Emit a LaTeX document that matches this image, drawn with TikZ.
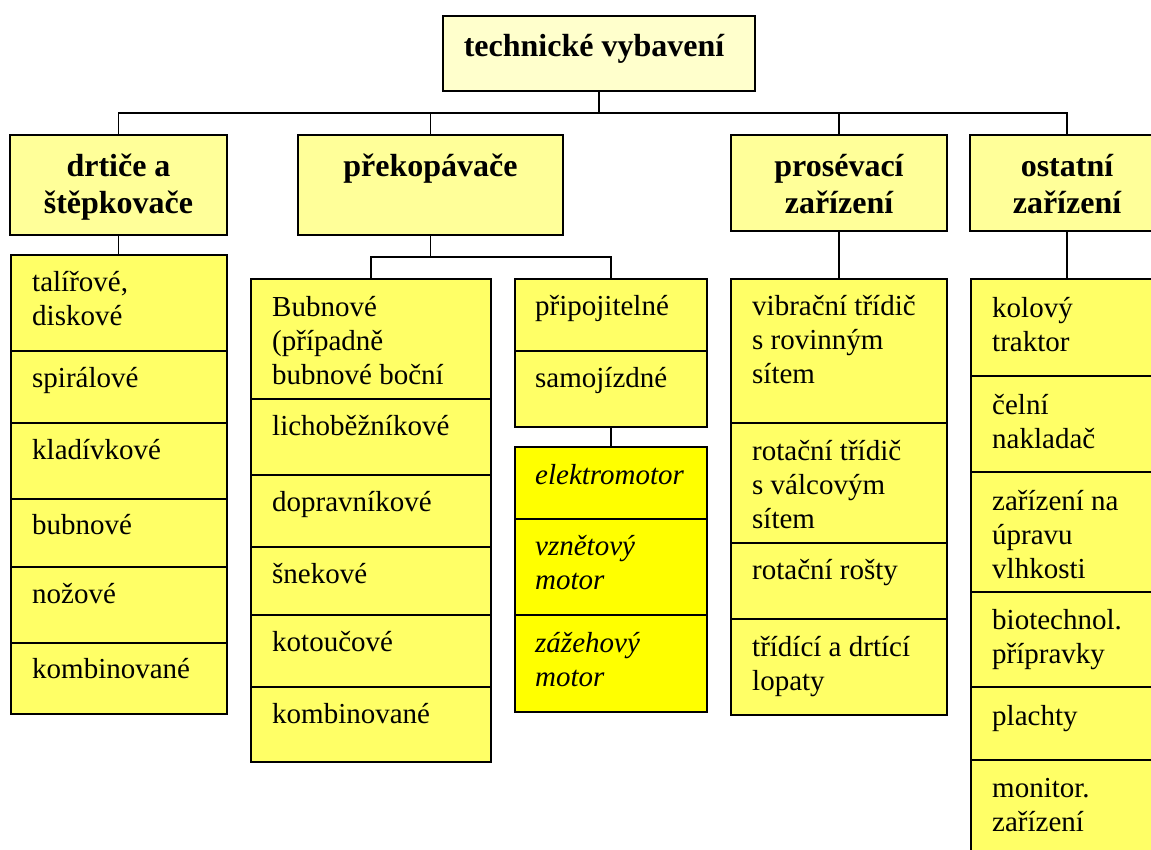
\documentclass[tikz,border=0pt]{standalone}
\usepackage{fontspec}
\setmainfont{Liberation Serif}
\definecolor{topc}{HTML}{FFFFCC}
\definecolor{lvone}{HTML}{FFFF99}
\definecolor{lvtwo}{HTML}{FFFF66}
\definecolor{motc}{HTML}{FFFF00}
\newcommand\lnsL[1]{\begin{tabular}[t]{@{}l@{}}#1\end{tabular}}
\newcommand\lnsC[1]{\begin{tabular}[t]{@{}c@{}}#1\end{tabular}}
\tikzset{
  box/.style={draw=black, line width=2pt, rectangle, inner sep=0pt, outer sep=0pt, anchor=north west},
  conn/.style={line width=1.7pt},
  head/.style={font=\fontsize{32}{37}\selectfont\bfseries, anchor=base, inner sep=0pt},
  item/.style={font=\fontsize{29}{34}\selectfont, anchor=base west, inner sep=0pt},
  itemit/.style={item, font=\fontsize{29}{34}\selectfont\itshape},
}
\begin{document}
\begin{tikzpicture}[x=1pt,y=-1pt]
\useasboundingbox (0,0) rectangle (1151,849);
\fill[white] (0,0) rectangle (1151,849);
\clip (0,0) rectangle (1151,849);

% top level
\node[box, fill=topc, minimum width=312pt, minimum height=75pt] (top) at (443,16) {};
\node[head] (topT) at ([shift={(-5,40)}]top.north) {technické vybavení};

% level one
\node[box, fill=lvone, minimum width=217pt, minimum height=100pt] (drt) at (10,135) {};
\node[box, fill=lvone, minimum width=265pt, minimum height=100pt] (pre) at (298,135) {};
\node[box, fill=lvone, minimum width=216pt, minimum height=96pt] (pro) at (731,135) {};
\node[box, fill=lvone, minimum width=194pt, minimum height=96pt] (ost) at (970,135) {};
\node[head] (drtT) at ([shift={(0,41)}]drt.north) {\lnsC{drtiče a\\štěpkovače}};
\node[head] (preT) at ([shift={(0,41)}]pre.north) {překopávače};
\node[head] (proT) at ([shift={(0,41)}]pro.north) {\lnsC{prosévací\\zařízení}};
\node[head] (ostT) at ([shift={(0,41)}]ost.north) {\lnsC{ostatní\\zařízení}};

% connectors level 0 -> 1
\coordinate (busA) at (0,113);
\draw[conn] (top.south) -- (top.south |- busA);
\draw[conn] (drt.north) |- (ost.north |- busA) -- (ost.north);
\draw[conn] (pre.north) -- (pre.north |- busA);
\draw[conn] (pro.north) -- (pro.north |- busA);

% drtice column
\node[box, fill=lvtwo, minimum width=216pt, minimum height=96pt] (d1) at (11,255) {};
\node[box, fill=lvtwo, minimum width=216pt, minimum height=72pt] (d2) at (11,351) {};
\node[box, fill=lvtwo, minimum width=216pt, minimum height=76pt] (d3) at (11,423) {};
\node[box, fill=lvtwo, minimum width=216pt, minimum height=68pt] (d4) at (11,499) {};
\node[box, fill=lvtwo, minimum width=216pt, minimum height=76pt] (d5) at (11,567) {};
\node[box, fill=lvtwo, minimum width=216pt, minimum height=71pt] (d6) at (11,643) {};
\node[item] (d1T) at ([shift={(21,36)}]d1.north west) {\lnsL{talířové,\\diskové}};
\node[item] (d2T) at ([shift={(21,36)}]d2.north west) {spirálové};
\node[item] (d3T) at ([shift={(21,36)}]d3.north west) {kladívkové};
\node[item] (d4T) at ([shift={(21,35)}]d4.north west) {bubnové};
\node[item] (d5T) at ([shift={(21,36)}]d5.north west) {nožové};
\node[item] (d6T) at ([shift={(21,35)}]d6.north west) {kombinované};
\draw[conn] (drt.south) -- (drt.south |- d1.north);

% prekopavace sub-bus
\coordinate (busB) at (0,257);
\draw[conn] (pre.south) -- (pre.south |- busB);

% bubnove column
\node[box, fill=lvtwo, minimum width=240pt, minimum height=120pt] (b1) at (251,279) {};
\node[box, fill=lvtwo, minimum width=240pt, minimum height=76pt] (b2) at (251,399) {};
\node[box, fill=lvtwo, minimum width=240pt, minimum height=72pt] (b3) at (251,475) {};
\node[box, fill=lvtwo, minimum width=240pt, minimum height=68pt] (b4) at (251,547) {};
\node[box, fill=lvtwo, minimum width=240pt, minimum height=72pt] (b5) at (251,615) {};
\node[box, fill=lvtwo, minimum width=240pt, minimum height=75pt] (b6) at (251,687) {};
\node[item] (b1T) at ([shift={(21,37)}]b1.north west) {\lnsL{Bubnové\\(případně\\bubnové boční}};
\node[item] (b2T) at ([shift={(21,36)}]b2.north west) {lichoběžníkové};
\node[item] (b3T) at ([shift={(21,36)}]b3.north west) {dopravníkové};
\node[item] (b4T) at ([shift={(21,36)}]b4.north west) {šnekové};
\node[item] (b5T) at ([shift={(21,36)}]b5.north west) {kotoučové};
\node[item] (b6T) at ([shift={(21,36)}]b6.north west) {kombinované};

% pripojitelne column
\node[box, fill=lvtwo, minimum width=192pt, minimum height=72pt] (p1) at (515,279) {};
\node[box, fill=lvtwo, minimum width=192pt, minimum height=76pt] (p2) at (515,351) {};
\node[item] (p1T) at ([shift={(20,36)}]p1.north west) {připojitelné};
\node[item] (p2T) at ([shift={(20,36)}]p2.north west) {samojízdné};
\draw[conn] (b1.north) |- (p1.north |- busB) -- (p1.north);

% motor column
\node[box, fill=motc, minimum width=192pt, minimum height=72pt] (m1) at (515,447) {};
\node[box, fill=motc, minimum width=192pt, minimum height=96pt] (m2) at (515,519) {};
\node[box, fill=motc, minimum width=192pt, minimum height=97pt] (m3) at (515,615) {};
\node[itemit] (m1T) at ([shift={(20,37)}]m1.north west) {elektromotor};
\node[itemit] (m2T) at ([shift={(20,36)}]m2.north west) {\lnsL{vznětový\\motor}};
\node[itemit] (m3T) at ([shift={(20,37)}]m3.north west) {\lnsL{zážehový\\motor}};
\draw[conn] (p2.south) -- (m1.north);

% prosevaci column
\node[box, fill=lvtwo, minimum width=216pt, minimum height=144pt] (s1) at (731,279) {};
\node[box, fill=lvtwo, minimum width=216pt, minimum height=120pt] (s2) at (731,423) {};
\node[box, fill=lvtwo, minimum width=216pt, minimum height=76pt] (s3) at (731,543) {};
\node[box, fill=lvtwo, minimum width=216pt, minimum height=96pt] (s4) at (731,619) {};
\node[item] (s1T) at ([shift={(21,36)}]s1.north west) {\lnsL{vibrační třídič\\s rovinným\\sítem}};
\node[item] (s2T) at ([shift={(21,37)}]s2.north west) {\lnsL{rotační třídič\\s válcovým\\sítem}};
\node[item] (s3T) at ([shift={(21,36)}]s3.north west) {rotační rošty};
\node[item] (s4T) at ([shift={(21,37)}]s4.north west) {\lnsL{třídící a drtící\\lopaty}};
\draw[conn] (pro.south) -- (pro.south |- s1.north);

% ostatni column
\node[box, fill=lvtwo, minimum width=193pt, minimum height=97pt] (o1) at (971,279) {};
\node[box, fill=lvtwo, minimum width=193pt, minimum height=96pt] (o2) at (971,376) {};
\node[box, fill=lvtwo, minimum width=193pt, minimum height=120pt] (o3) at (971,472) {};
\node[box, fill=lvtwo, minimum width=193pt, minimum height=95pt] (o4) at (971,592) {};
\node[box, fill=lvtwo, minimum width=193pt, minimum height=73pt] (o5) at (971,687) {};
\node[box, fill=lvtwo, minimum width=193pt, minimum height=110pt] (o6) at (971,760) {};
\node[item] (o1T) at ([shift={(21,38)}]o1.north west) {\lnsL{kolový\\traktor}};
\node[item] (o2T) at ([shift={(21,38)}]o2.north west) {\lnsL{čelní\\nakladač}};
\node[item] (o3T) at ([shift={(21,38)}]o3.north west) {\lnsL{zařízení na\\úpravu\\vlhkosti}};
\node[item] (o4T) at ([shift={(21,37)}]o4.north west) {\lnsL{biotechnol.\\přípravky}};
\node[item] (o5T) at ([shift={(21,38)}]o5.north west) {plachty};
\node[item] (o6T) at ([shift={(21,37)}]o6.north west) {\lnsL{monitor.\\zařízení}};
\draw[conn] (ost.south) -- (ost.south |- o1.north);
\end{tikzpicture}
\end{document}
